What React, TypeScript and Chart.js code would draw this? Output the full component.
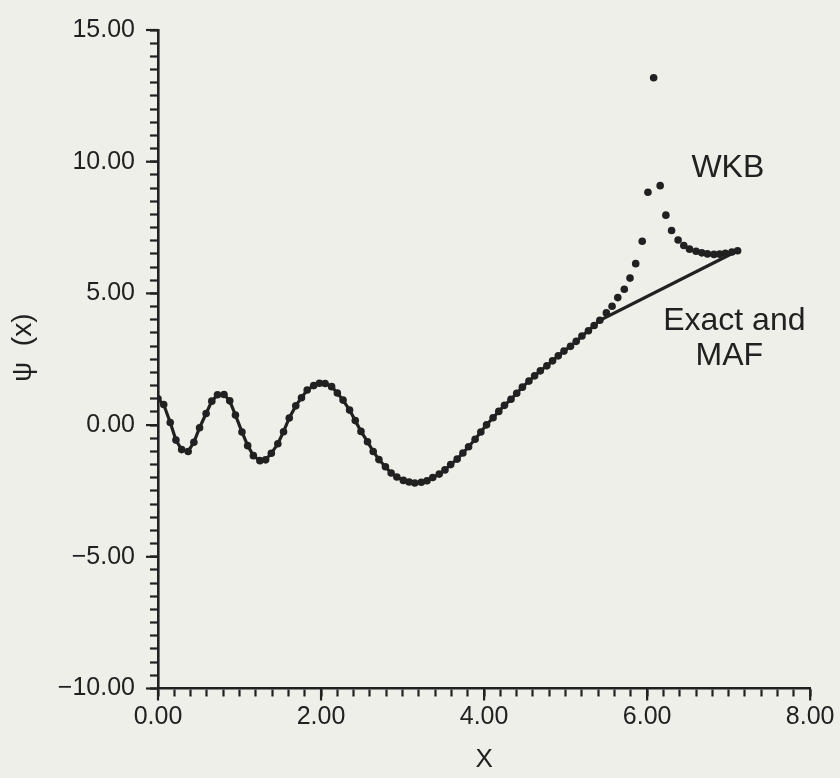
import React, { useEffect, useRef } from 'react';
import { Chart, registerables } from 'chart.js';

Chart.register(...registerables);

// ---- data ----
const xValues = [
  0.00, 0.07, 0.15, 0.22, 0.29, 0.37, 0.44, 0.51, 0.59, 0.66,
  0.73, 0.81, 0.88, 0.95, 1.03, 1.10, 1.17, 1.25, 1.32, 1.39,
  1.47, 1.54, 1.61, 1.69, 1.76, 1.83, 1.91, 1.98, 2.05, 2.13,
  2.20, 2.27, 2.35, 2.42, 2.49, 2.57, 2.64, 2.71, 2.79, 2.86,
  2.93, 3.01, 3.08, 3.15, 3.23, 3.30, 3.37, 3.45, 3.52, 3.59,
  3.67, 3.74, 3.81, 3.89, 3.96, 4.03, 4.11, 4.18, 4.25, 4.33,
  4.40, 4.47, 4.55, 4.62, 4.69, 4.77, 4.84, 4.91, 4.98, 5.06,
  5.13, 5.20, 5.28, 5.35, 5.42, 5.50, 5.57, 5.64, 5.72, 5.79,
  5.86, 5.94, 6.01, 6.08, 6.16, 6.23, 6.30, 6.38, 6.45, 6.52,
  6.60, 6.67, 6.74, 6.82, 6.89, 6.96, 7.04, 7.11,
];

const wkbValues = [
  1.00, 0.78, 0.10, -0.57, -0.93, -1.00, -0.65, -0.10, 0.44, 0.91,
  1.15, 1.16, 0.92, 0.38, -0.26, -0.78, -1.16, -1.35, -1.32, -1.07,
  -0.71, -0.25, 0.27, 0.73, 1.04, 1.33, 1.50, 1.59, 1.58, 1.46,
  1.22, 0.95, 0.57, 0.17, -0.24, -0.63, -1.00, -1.31, -1.58, -1.82,
  -1.97, -2.10, -2.16, -2.20, -2.17, -2.11, -1.99, -1.86, -1.70, -1.50,
  -1.29, -1.06, -0.82, -0.54, -0.26, 0.01, 0.28, 0.52, 0.75, 0.98,
  1.21, 1.44, 1.67, 1.87, 2.06, 2.25, 2.44, 2.63, 2.81, 2.99,
  3.18, 3.38, 3.58, 3.78, 3.98, 4.26, 4.51, 4.84, 5.16, 5.58,
  6.13, 6.98, 8.84, 13.19, 9.09, 7.97, 7.39, 7.03, 6.82, 6.68,
  6.60, 6.54, 6.50, 6.48, 6.49, 6.52, 6.57, 6.62,
];

const exactValues: (number | null)[] = [
  1.00, 0.78, 0.10, -0.57, -0.93, -1.00, -0.65, -0.10, 0.44, 0.91,
  1.15, 1.16, 0.92, 0.38, -0.26, -0.78, -1.16, -1.35, -1.32, -1.07,
  -0.71, -0.25, 0.27, 0.73, 1.04, 1.33, 1.50, 1.59, 1.58, 1.46,
  1.22, 0.95, 0.57, 0.17, -0.24, -0.63, -1.00, -1.31, -1.58, -1.82,
  -1.97, -2.10, -2.16, -2.20, -2.17, -2.11, -1.99, -1.86, -1.70, -1.50,
  -1.29, -1.06, -0.82, -0.54, -0.26, 0.01, 0.28, 0.52, 0.75, 0.98,
  1.21, 1.44, 1.67, 1.87, 2.06, 2.25, 2.44, 2.63, 2.81, 2.99,
  3.18, 3.38, 3.58, 3.78, 3.98, null, null, null, null, null,
  null, null, null, null, null, null, null, null, null, null,
  null, null, null, null, null, null, null, 6.62,
];

const xMajorTicks = [0, 2, 4, 6, 8];
const yMajorTicks = [-10, -5, 0, 5, 10, 15];

const annotations = [
  { lines: ['WKB'], x: 6.99, y: 9.76 },
  { lines: ['Exact and', 'MAF'], x: 7.07, y: 3.94 },
];

// ---- styles ----
const INK = '#212121';
const BG = '#efefea';
const FONT = '"Liberation Sans", Arial, Helvetica, sans-serif';

const isMajor = (v: number, list: number[]) => list.some((m) => Math.abs(m - v) < 1e-6);
const fmt = (v: number) => (v < 0 ? '\u2212' + Math.abs(v).toFixed(2) : v.toFixed(2));

const majorTickPlugin = {
  id: 'majorTicks',
  afterDraw(chart: any) {
    const { ctx, chartArea } = chart;
    const xs = chart.scales.x;
    const ys = chart.scales.y;
    ctx.save();
    ctx.strokeStyle = INK;
    ctx.lineWidth = 2.2;
    xMajorTicks.forEach((v) => {
      const px = xs.getPixelForValue(v);
      ctx.beginPath();
      ctx.moveTo(px, chartArea.bottom);
      ctx.lineTo(px, chartArea.bottom + 12);
      ctx.stroke();
    });
    yMajorTicks.forEach((v) => {
      const py = ys.getPixelForValue(v);
      ctx.beginPath();
      ctx.moveTo(chartArea.left, py);
      ctx.lineTo(chartArea.left - 12, py);
      ctx.stroke();
    });
    ctx.restore();
  },
};

const annotationPlugin = {
  id: 'textNotes',
  afterDatasetsDraw(chart: any) {
    const { ctx } = chart;
    const xs = chart.scales.x;
    const ys = chart.scales.y;
    ctx.save();
    ctx.fillStyle = INK;
    ctx.font = `32px ${FONT}`;
    ctx.textAlign = 'center';
    ctx.textBaseline = 'middle';
    annotations.forEach((a) => {
      const px = xs.getPixelForValue(a.x);
      const py = ys.getPixelForValue(a.y);
      a.lines.forEach((t, i) => {
        ctx.fillText(t, px + (i === 0 ? 0 : -5), py + i * 35);
      });
    });
    ctx.restore();
  },
};

export default function App() {
  const ref = useRef<HTMLCanvasElement>(null);

  useEffect(() => {
    const canvas = ref.current;
    if (!canvas) return;
    const exactPts = xValues.map((x, i) => ({ x, y: exactValues[i] }));
    const wkbPts = xValues.map((x, i) => ({ x, y: wkbValues[i] }));

    const chart = new Chart(canvas, {
      type: 'scatter',
      data: {
        datasets: [
          {
            label: 'WKB',
            data: wkbPts,
            showLine: false,
            pointRadius: 3.8,
            pointHoverRadius: 3.8,
            pointBackgroundColor: INK,
            pointBorderWidth: 0,
            order: 1,
          },
          {
            label: 'Exact and MAF',
            data: exactPts as any,
            showLine: true,
            spanGaps: true,
            borderColor: INK,
            borderWidth: 3.2,
            pointRadius: 0,
            tension: 0,
            order: 2,
          },
        ],
      },
      options: {
        animation: false,
        responsive: false,
        devicePixelRatio: 1,
        layout: { padding: { top: 18.5, right: 27, bottom: 0, left: 0 } },
        plugins: {
          legend: { display: false },
          tooltip: { enabled: false },
        },
        scales: {
          x: {
            type: 'linear',
            min: 0,
            max: 8,
            ticks: {
              stepSize: 0.2,
              autoSkip: false,
              maxRotation: 0,
              minRotation: 0,
              padding: 5.5,
              color: INK,
              font: { family: FONT, size: 25 },
              callback: (v: any) => (isMajor(Number(v), xMajorTicks) ? fmt(Number(v)) : ''),
            },
            grid: {
              drawOnChartArea: false,
              drawTicks: true,
              tickLength: 8,
              tickWidth: 2.2,
              tickColor: INK,
            },
            border: { display: true, color: INK, width: 2.6 },
            title: {
              display: true,
              text: 'X',
              color: INK,
              font: { family: FONT, size: 26 },
              padding: { top: 0, bottom: 2.5 },
            },
            afterFit: (s: any) => {
              s.height = 89.5;
            },
          },
          y: {
            type: 'linear',
            min: -10,
            max: 15,
            ticks: {
              stepSize: 0.5,
              autoSkip: false,
              padding: 15,
              color: INK,
              font: { family: FONT, size: 25 },
              callback: (v: any) => (isMajor(Number(v), yMajorTicks) ? fmt(Number(v)) : ''),
            },
            grid: {
              drawOnChartArea: false,
              drawTicks: true,
              tickLength: 8,
              tickWidth: 2.2,
              tickColor: INK,
            },
            border: { display: true, color: INK, width: 2.6 },
            title: {
              display: true,
              text: '   \u03C8  (x)',
              color: INK,
              font: { family: FONT, size: 28 },
              padding: { top: 6, bottom: 0 },
            },
            afterFit: (s: any) => {
              s.width = 158;
            },
          },
        },
      },
      plugins: [majorTickPlugin, annotationPlugin],
    });

    return () => chart.destroy();
  }, []);

  return (
    <div style={{ position: 'fixed', left: 0, top: 0, width: 840, height: 778, background: BG }}>
      <canvas ref={ref} width={840} height={778} style={{ display: 'block', width: 840, height: 778 }} />
    </div>
  );
}
